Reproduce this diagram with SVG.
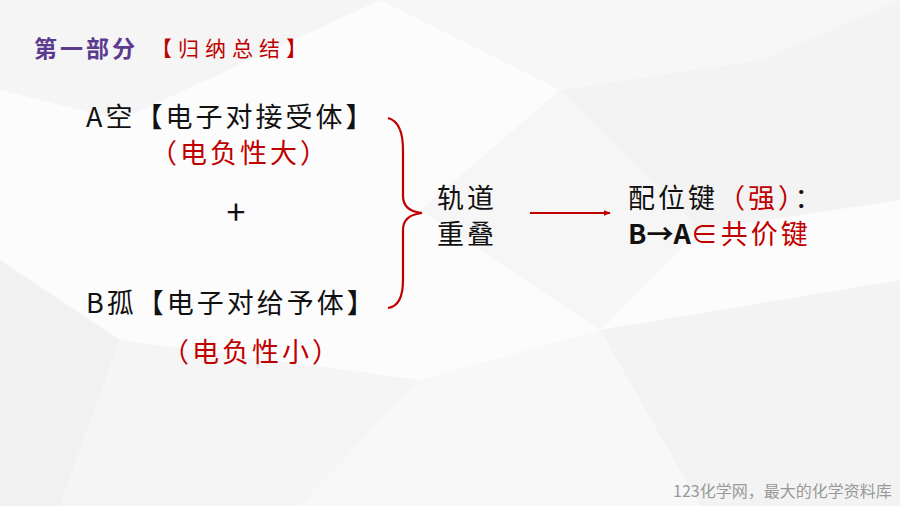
<svg xmlns="http://www.w3.org/2000/svg" width="900" height="506" viewBox="0 0 900 506">
<defs>
<style>
.cjk{font-family:"Noto Sans CJK SC","Noto Sans",sans-serif}
.blk{fill:#111}
.red{fill:#c00000}
.big{font-size:27px;letter-spacing:3px}
</style>
<marker id="ah" viewBox="0 0 10 10" refX="9" refY="5" markerWidth="7" markerHeight="7" orient="auto" markerUnits="userSpaceOnUse">
<path d="M0,1 L10,5 L0,9 z" fill="#c00000"/>
</marker>
</defs>
<g id="background">
<rect width="900" height="506" fill="#fcfcfc"/>
<polygon points="0,0 380,0 120,120 0,90" fill="#f5f5f5"/>
<polygon points="380,0 900,0 760,60 560,90" fill="#f7f7f7"/>
<polygon points="560,90 760,60 900,0 900,200 700,230" fill="#f3f3f3"/>
<polygon points="420,210 560,90 700,230 600,330" fill="#f6f6f6"/>
<polygon points="0,260 120,340 60,506 0,506" fill="#f1f1f1"/>
<polygon points="120,340 420,380 300,506 60,506" fill="#f5f5f5"/>
<polygon points="600,330 900,280 900,506 700,506" fill="#f3f3f3"/>
<polygon points="420,380 600,330 700,506 300,506" fill="#f8f8f8"/>
</g>
<g id="title">
<text x="34" y="57" class="cjk" font-size="23" font-weight="bold" letter-spacing="3" fill="#5b3a8f">第一部分</text>
<text x="151" y="56" class="cjk red" font-size="21" letter-spacing="6">【归纳总结】</text>
</g>
<g id="nodeA">
<text x="86" y="127" class="cjk blk big">A空【电子对接受体】</text>
<text x="150" y="163" class="cjk red big">（电负性大）</text>
</g>
<g id="plus">
<text x="236" y="225" class="cjk blk" font-size="34" text-anchor="middle">+</text>
</g>
<g id="nodeB">
<text x="86" y="313" class="cjk blk big">B孤【电子对给予体】</text>
<text x="162" y="362" class="cjk red big">（电负性小）</text>
</g>
<g id="overlap">
<text x="437" y="208" class="cjk blk big">轨道</text>
<text x="437" y="244" class="cjk blk big">重叠</text>
</g>
<g id="result">
<text x="628" y="208" class="cjk big"><tspan class="blk">配位键</tspan><tspan class="red">（强）</tspan><tspan class="blk">：</tspan></text>
<text x="628" y="244" class="cjk big"><tspan class="blk" font-weight="bold" letter-spacing="0">B→A</tspan><tspan class="red">∈共价键</tspan></text>
</g>
<g id="connectors">
<path d="M388,118 Q403,122 403,150 L403,196 Q403,211 422,213 Q403,215 403,230 L403,280 Q403,306 388,308" fill="none" stroke="#c00000" stroke-width="2.2"/>
<line x1="530" y1="213" x2="610" y2="213" stroke="#c00000" stroke-width="2" marker-end="url(#ah)"/>
</g>
<g id="watermark">
<text x="673" y="497" class="cjk" font-size="16" fill="#999">123化学网，最大的化学资料库</text>
</g>
</svg>
